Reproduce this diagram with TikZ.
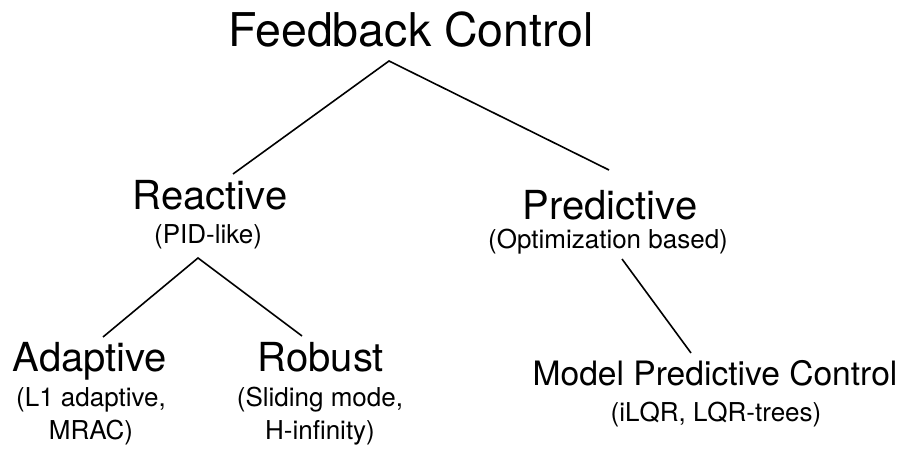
\documentclass[tikz,border=0pt]{standalone}
\usepackage{fontspec}
\setmainfont{TeX Gyre Heros}
\usetikzlibrary{positioning,calc}

\begin{document}
\begin{tikzpicture}[x=1pt,y=1pt,
  every node/.style={inner sep=0pt,anchor=base,align=center},
  top/.style={font=\fontsize{46.5}{50}\selectfont},
  cls/.style={font=\fontsize{40}{44}\selectfont},
  mpcls/.style={font=\fontsize{33.6}{37}\selectfont},
  sub/.style={font=\fontsize{26}{33}\selectfont},
  edge/.style={draw=black,line width=1.6pt}]
\useasboundingbox (0,0) rectangle (904,449);
% tree labels (two-line notes sit on their last baseline)
\node[top] (fc) at (411,402) {Feedback Control};
\node[cls] (react) at (210,239) {Reactive};
\node[sub] (pid) at (208,205) {(PID-like)};
\node[cls] (pred) at (610,229) {Predictive};
\node[sub] (opt) at (608,200) {(Optimization based)};
\node[cls] (adapt) at (90,77) {Adaptive};
\node[sub] (l1) at (91,9) {(L1 adaptive,\\MRAC)};
\node[cls] (robust) at (321,77) {Robust};
\node[sub] (slide) at (320,9) {(Sliding mode,\\H-infinity)};
\node[mpcls] (mpc) at (715,63) {Model Predictive Control};
\node[sub] (ilqr) at (716,27) {(iLQR, LQR-trees)};
% branches
\draw[edge] ([xshift=23pt,yshift=36pt]react.base) -- ([xshift=-22pt,yshift=-14pt]fc.base)
  -- ([xshift=-1pt,yshift=50pt]pred.base);
\draw[edge] ([xshift=13pt,yshift=35pt]adapt.base) -- ([xshift=-10pt,yshift=-14pt]pid.base)
  -- ([xshift=-19pt,yshift=36pt]robust.base);
\draw[edge] ([xshift=14pt,yshift=-10pt]opt.base) -- ([xshift=-24pt,yshift=33pt]mpc.base);
\end{tikzpicture}
\end{document}
